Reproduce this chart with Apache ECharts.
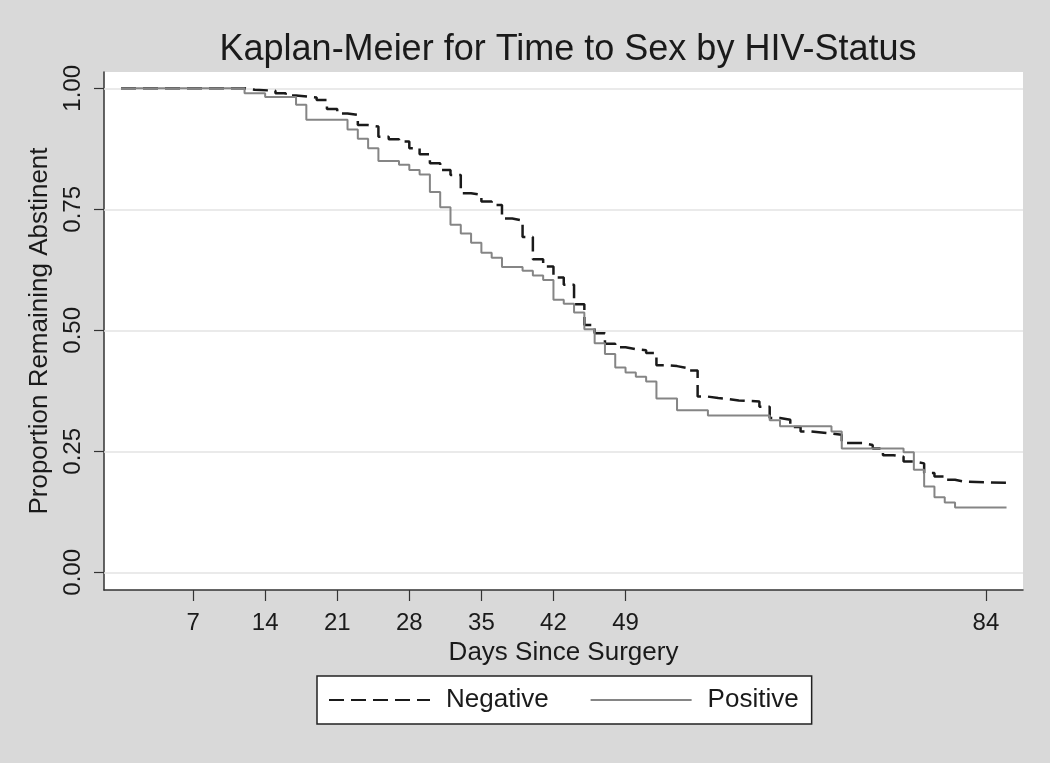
<!DOCTYPE html>
<html>
<head>
<meta charset="utf-8">
<script src="https://cdn.jsdelivr.net/npm/echarts@6/dist/echarts.min.js"></script>
<style>
html,body{margin:0;padding:0;background:#d9d9d9;}
#chart{width:1050px;height:763px;}
</style>
</head>
<body>
<div id="chart"></div>
<script>
// Data (days since surgery, proportion remaining abstinent)
const negDays = [0, 12, 13, 15, 16, 17, 19, 20, 21, 22, 23, 24, 25, 26, 27, 28, 29, 30, 31, 32, 33, 34, 35, 36, 37, 38, 39, 40, 41, 42, 43, 44, 45, 46, 47, 48, 49, 50, 51, 52, 53, 54, 55, 56, 57, 58, 59, 60, 62, 63, 64, 65, 66, 67, 69, 70, 72, 73, 74, 75, 76, 77, 78, 79, 80, 81, 82, 86];
const negSurv = [1.000, 0.997, 0.995, 0.990, 0.985, 0.981, 0.976, 0.957, 0.948, 0.945, 0.924, 0.921, 0.900, 0.895, 0.890, 0.876, 0.864, 0.845, 0.831, 0.821, 0.783, 0.780, 0.766, 0.759, 0.731, 0.727, 0.693, 0.647, 0.632, 0.609, 0.594, 0.554, 0.511, 0.494, 0.472, 0.465, 0.461, 0.459, 0.453, 0.428, 0.426, 0.422, 0.417, 0.363, 0.360, 0.358, 0.355, 0.353, 0.342, 0.319, 0.315, 0.300, 0.291, 0.287, 0.284, 0.267, 0.263, 0.256, 0.242, 0.239, 0.229, 0.225, 0.205, 0.198, 0.191, 0.187, 0.185, 0.185];
const posDays = [0, 12, 14, 17, 18, 22, 23, 24, 25, 27, 28, 29, 30, 31, 32, 33, 34, 35, 36, 37, 39, 40, 41, 42, 43, 44, 45, 46, 47, 48, 49, 50, 51, 52, 54, 57, 63, 64, 69, 70, 76, 77, 78, 79, 80, 81, 86];
const posSurv = [1.000, 0.990, 0.982, 0.966, 0.935, 0.915, 0.896, 0.876, 0.850, 0.842, 0.831, 0.822, 0.786, 0.754, 0.718, 0.700, 0.681, 0.660, 0.650, 0.631, 0.623, 0.613, 0.604, 0.563, 0.555, 0.537, 0.502, 0.473, 0.451, 0.423, 0.413, 0.404, 0.394, 0.359, 0.335, 0.324, 0.314, 0.302, 0.291, 0.256, 0.248, 0.212, 0.177, 0.155, 0.144, 0.134, 0.134];
const xTicks = [7, 14, 21, 28, 35, 42, 49, 84];
const yTicks = [0, 0.25, 0.5, 0.75, 1];
const seriesNames = ['Negative', 'Positive'];

const FONT = '"Liberation Sans", Arial, Helvetica, sans-serif';
const chart = echarts.init(document.getElementById('chart'));
const zip = (xs, ys) => xs.map((x, i) => [x, ys[i]]);

chart.setOption({
  backgroundColor: '#d9d9d9',
  animation: false,
  textStyle: { fontFamily: FONT, color: '#1a1a1a' },
  title: {
    text: 'Kaplan-Meier for Time to Sex by HIV-Status',
    left: 563, top: 27, textAlign: 'center',
    textStyle: { fontFamily: FONT, fontSize: 36, fontWeight: 'normal', color: '#1a1a1a' }
  },
  grid: {
    left: 104, right: 27, top: 72, bottom: 173,
    show: true, backgroundColor: '#ffffff', borderWidth: 0
  },
  xAxis: {
    type: 'value', min: -1.65, max: 87.6,
    name: 'Days Since Surgery', nameLocation: 'middle', nameGap: 41,
    nameTextStyle: { fontFamily: FONT, fontSize: 26, color: '#1a1a1a' },
    axisLine: { show: true, onZero: false, lineStyle: { color: '#333', width: 1.5 } },
    axisTick: { show: true, length: 11, lineStyle: { color: '#333', width: 1.2 }, customValues: xTicks },
    axisLabel: { fontFamily: FONT, fontSize: 24, color: '#1a1a1a', margin: 21, customValues: xTicks },
    splitLine: { show: false }
  },
  yAxis: {
    type: 'value', min: -0.0366, max: 1.0337,
    name: 'Proportion Remaining Abstinent', nameLocation: 'middle', nameGap: 50,
    nameTextStyle: { fontFamily: FONT, fontSize: 26, color: '#1a1a1a' },
    axisLine: { show: true, onZero: false, lineStyle: { color: '#333', width: 1.5 } },
    axisTick: { show: true, length: 10, lineStyle: { color: '#333', width: 1.2 }, customValues: yTicks },
    axisLabel: { fontFamily: FONT, fontSize: 24, color: '#1a1a1a', rotate: 90, margin: 19,
      customValues: yTicks, formatter: v => Number(v).toFixed(2) },
    splitLine: { show: false }
  },
  legend: {
    left: 317, top: 676, orient: 'horizontal',
    padding: [11, 13, 11, 11],
    backgroundColor: '#ffffff', borderColor: '#222', borderWidth: 1.5, borderRadius: 0,
    itemWidth: 101, itemHeight: 14, itemGap: 41,
    itemStyle: { opacity: 0 },
    data: seriesNames,
    textStyle: { fontFamily: FONT, fontSize: 26, color: '#1a1a1a', padding: [0, 0, 0, 11] }
  },
  series: [
    {
      name: seriesNames[0], type: 'line', step: 'end', symbol: 'none',
      data: zip(negDays, negSurv),
      lineStyle: { color: '#1a1a1a', width: 2.5, type: [15, 7] },
      itemStyle: { color: '#1a1a1a' },
      z: 3,
      markLine: {
        silent: true, symbol: 'none', z: 1, animation: false,
        label: { show: false },
        lineStyle: { color: '#e3e3e3', width: 1.5, type: 'solid' },
        data: yTicks.map(v => ({ yAxis: v }))
      }
    },
    {
      name: seriesNames[1], type: 'line', step: 'end', symbol: 'none',
      data: zip(posDays, posSurv),
      lineStyle: { color: '#858585', width: 2 },
      itemStyle: { color: '#858585' },
      z: 4
    }
  ]
});
</script>
</body>
</html>
